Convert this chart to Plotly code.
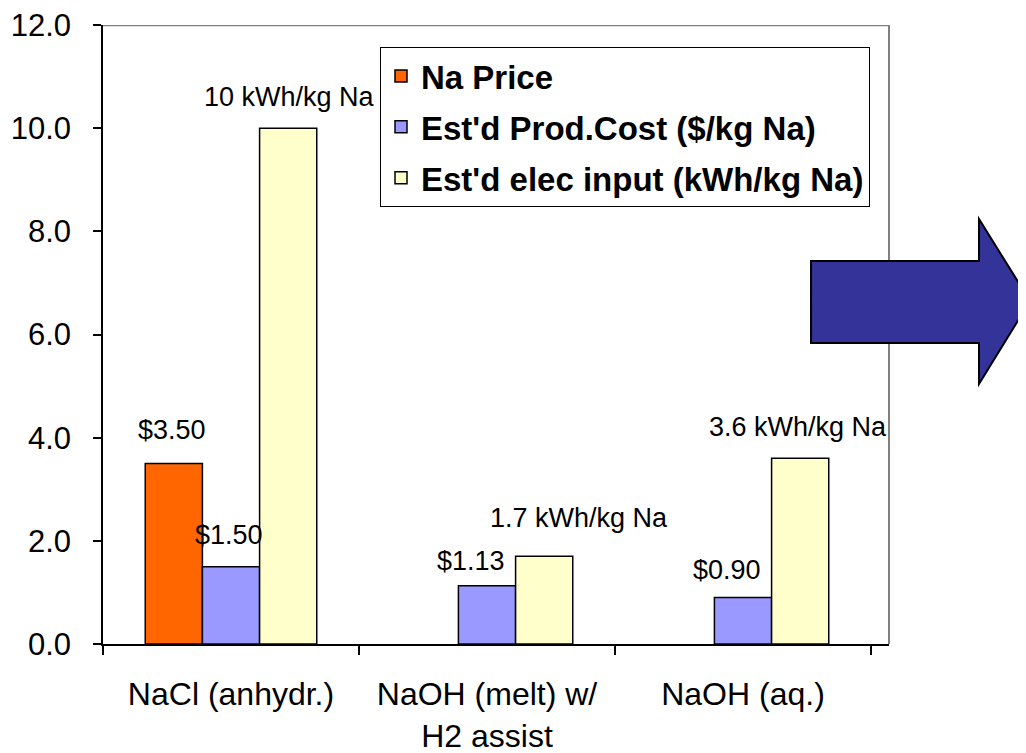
import plotly.graph_objects as go

categories = ["NaCl (anhydr.)", "NaOH (melt) w/<br>H2 assist", "NaOH (aq.)"]

na_price = [3.5, None, None]
prod_cost = [1.5, 1.13, 0.9]
elec_input = [10, 1.7, 3.6]

price_labels = ["$3.50", None, None]
cost_labels = ["$1.50", "$1.13", "$0.90"]
elec_labels = ["10 kWh/kg Na", "1.7 kWh/kg Na", "3.6 kWh/kg Na"]

y_ticks = [0, 2, 4, 6, 8, 10, 12]

# plot area in page pixels; the page body has an 8px margin
BODY = 8
L, R, T, B = 103, 889, 25, 644
W, H = 1026, 753


def px_to_paper(x, y):
    return (x - L) / (R - L), (B - y) / (B - T)


fig = go.Figure()

series = [
    ("Na Price", na_price, "#FF6600"),
    ("Est'd Prod.Cost ($/kg Na)", prod_cost, "#9999FF"),
    ("Est'd elec input (kWh/kg Na)", elec_input, "#FFFFCC"),
]
for i, (name, vals, color) in enumerate(series):
    fig.add_trace(go.Bar(
        x=categories,
        y=vals,
        name=f"<b>{name}</b>",
        legendgroup=str(i),
        marker_color=color,
        marker_line_color='black',
        marker_line_width=1.5,
    ))

# hand-placed data labels (pixel offsets from the top of each bar)
label_sets = [
    (price_labels, na_price, [(-59, 33), None, None]),
    (cost_labels, prod_cost, [(-2, 32), (-16, 25), (-16, 28)]),
    (elec_labels, elec_input, [(58, 31), (92, 38), (55, 31)]),
]
for labels, vals, offsets in label_sets:
    for cat, lab, v, off in zip(categories, labels, vals, offsets):
        if lab is None:
            continue
        fig.add_annotation(
            x=cat, y=v, text=lab, showarrow=False,
            xshift=off[0], yshift=off[1], yanchor='middle',
            font=dict(size=27, color='black'),
        )

# gray top/right frame
fig.add_shape(type='line', xref='paper', yref='y', x0=0, x1=1, y0=12, y1=12,
              line=dict(color='#808080', width=2.5), layer='above')
fig.add_shape(type='line', xref='paper', yref='paper', x0=1, x1=1, y0=0, y1=1,
              line=dict(color='#808080', width=2), layer='above')

# big blue arrow on the right
arrow_px = [(811, 261), (979, 261), (979, 219), (1030, 301),
            (979, 384), (979, 343), (811, 343)]
pts = [px_to_paper(x, y) for x, y in arrow_px]
path = 'M' + ' L'.join(f'{x:.4f},{y:.4f}' for x, y in pts) + ' Z'
fig.add_shape(type='path', xref='paper', yref='paper', path=path,
              fillcolor='#333399', line=dict(color='black', width=2), layer='above')

fig.update_layout(
    width=W, height=H,
    margin=dict(l=L - BODY, r=W - (R - BODY), t=T - BODY, b=H - (B - BODY)),
    paper_bgcolor='white',
    plot_bgcolor='white',
    barmode='group',
    bargap=0.33,
    bargroupgap=0,
    font=dict(family='Liberation Sans, Arial, sans-serif', color='black'),
    showlegend=True,
    legend=dict(
        x=(380 - L) / (R - L), y=(B - 47) / (B - T),
        xanchor='left', yanchor='top',
        bgcolor='white', bordercolor='black', borderwidth=1,
        font=dict(size=33, color='black', family='Liberation Sans, Arial, sans-serif'),
        traceorder='grouped',
        tracegroupgap=5,
    ),
)

fig.update_xaxes(
    automargin=False,
    showline=True, linecolor='black', linewidth=1.5,
    ticks='outside', tickson='boundaries', ticklen=9, tickcolor='black', tickwidth=1.5,
    tickfont=dict(size=32),
    ticklabelstandoff=21,
    ticklabeloverflow='allow',
    showgrid=False,
)
fig.update_yaxes(
    automargin=False,
    range=[0, 12], tickvals=y_ticks, tickformat='.1f',
    showline=True, linecolor='black', linewidth=1.5,
    ticks='outside', ticklen=8, tickcolor='black', tickwidth=1.5,
    tickfont=dict(size=31),
    ticklabelstandoff=16,
    ticklabeloverflow='allow',
    showgrid=False, zeroline=False,
)

fig.write_html("out.html")
